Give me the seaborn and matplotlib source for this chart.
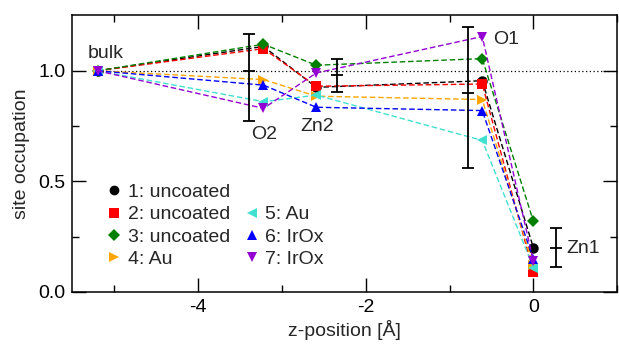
import numpy as np
import pandas as pd
import seaborn as sns
import matplotlib
matplotlib.use("Agg")
import matplotlib.pyplot as plt
from matplotlib.lines import Line2D

# ---- data ----
z_pos = [-5.2, -3.22, -2.59, -0.61, 0.0]
s1 = [1.0, 1.11, 0.925, 0.955, 0.20]
s2 = [1.0, 1.10, 0.93, 0.94, 0.09]
s3 = [1.0, 1.12, 1.025, 1.055, 0.32]
s4 = [1.0, 0.96, 0.885, 0.87, 0.12]
s5 = [1.0, 0.86, 0.89, 0.685, 0.11]
s6 = [1.0, 0.935, 0.835, 0.82, 0.15]
s7 = [1.0, 0.83, 0.99, 1.155, 0.14]
labels = ["1: uncoated", "2: uncoated", "3: uncoated", "4: Au", "5: Au", "6: IrOx", "7: IrOx"]
series = [s1, s2, s3, s4, s5, s6, s7]

err_x = [-3.39, -2.34, -0.78, 0.27]
err_y = [1.0, 0.98, 0.90, 0.20]
err_lo = [0.226, 0.078, 0.34, 0.088]
err_hi = [0.167, 0.073, 0.30, 0.088]

site_names = ["bulk", "O2", "Zn2", "O1", "Zn1"]
site_x = [-5.10, -3.21, -2.58, -0.32, 0.59]
site_y = [1.08, 0.71, 0.748, 1.14, 0.198]

colors = ["black", "red", "green", "orange", "turquoise", "blue", "darkviolet"]
markers = ["o", "s", "D", ">", "<", "^", "v"]
msizes = [7.5, 7.5, 6.5, 7.5, 7.5, 7.5, 7.5]

FS = 14

sns.set_style("ticks")
plt.rcParams["font.family"] = ["Liberation Sans", "DejaVu Sans"]
plt.rcParams["font.size"] = FS
plt.rcParams["axes.unicode_minus"] = False

df = pd.DataFrame({
    "z": np.tile(z_pos, len(series)),
    "occ": np.concatenate(series),
    "sample": np.repeat(labels, len(z_pos)),
})

fig = plt.figure(figsize=(6.19, 3.45), dpi=100)
ax = fig.add_axes([0.117, 0.154, 0.880, 0.803])

ax.hlines(1.0, -5.2, 1.0, colors="black", linestyles=(0, (1, 2)), linewidth=0.9, zorder=1)

for i, lab in enumerate(labels):
    sub = df[df["sample"] == lab]
    sns.lineplot(data=sub, x="z", y="occ", ax=ax, color=colors[i], marker=markers[i],
                 markersize=msizes[i], markeredgewidth=0, linewidth=1.0,
                 dashes=False, linestyle=(0, (4, 2)), legend=False, zorder=2 + i)

ax.errorbar(err_x, err_y, yerr=[err_lo, err_hi], fmt="_", color="black", ecolor="black",
            elinewidth=1.3, capsize=4.5, capthick=1.3, markersize=8, markeredgewidth=1.3,
            zorder=12)

for name, tx, ty in zip(site_names, site_x, site_y):
    ax.text(tx, ty, name, ha="center", va="center", fontsize=FS)

ax.set_xlim(-5.5, 1.0)
ax.set_ylim(0.0, 1.253)
ax.set_xticks([-4, -2, 0])
ax.set_xticks([-5, -3, -1, 1], minor=True)
ax.set_yticks([0.0, 0.5, 1.0])
ax.set_yticks([0.25, 0.75], minor=True)
ax.set_yticklabels(["0.0", "0.5", "1.0"])
ax.tick_params(which="both", direction="in", top=True, right=True, width=1.0, colors="black",
               labelsize=FS)
ax.tick_params(which="major", length=10, pad=5)
ax.tick_params(which="minor", length=5)
for sp in ax.spines.values():
    sp.set_linewidth(1.1)
    sp.set_color("black")

ax.set_xlabel("z-position [Å]", fontsize=FS, labelpad=3)
ax.set_ylabel("site occupation", fontsize=FS, labelpad=6)

handles = [Line2D([], [], color=colors[i], marker=markers[i], linestyle="none",
                  markersize=msizes[i] - 0.5, markeredgewidth=0) for i in range(7)]
blank = Line2D([], [], linestyle="none", marker=None)
hl = handles[:4] + [blank] + handles[4:]
ll = labels[:4] + [""] + labels[4:]
ax.legend(hl, ll, ncol=2, loc="upper left", bbox_to_anchor=(0.045, 0.426), frameon=False,
          handlelength=0.8, handletextpad=0.3, labelspacing=0.24, columnspacing=0.7,
          borderpad=0, fontsize=FS)

fig.savefig("out.png", dpi=100)
